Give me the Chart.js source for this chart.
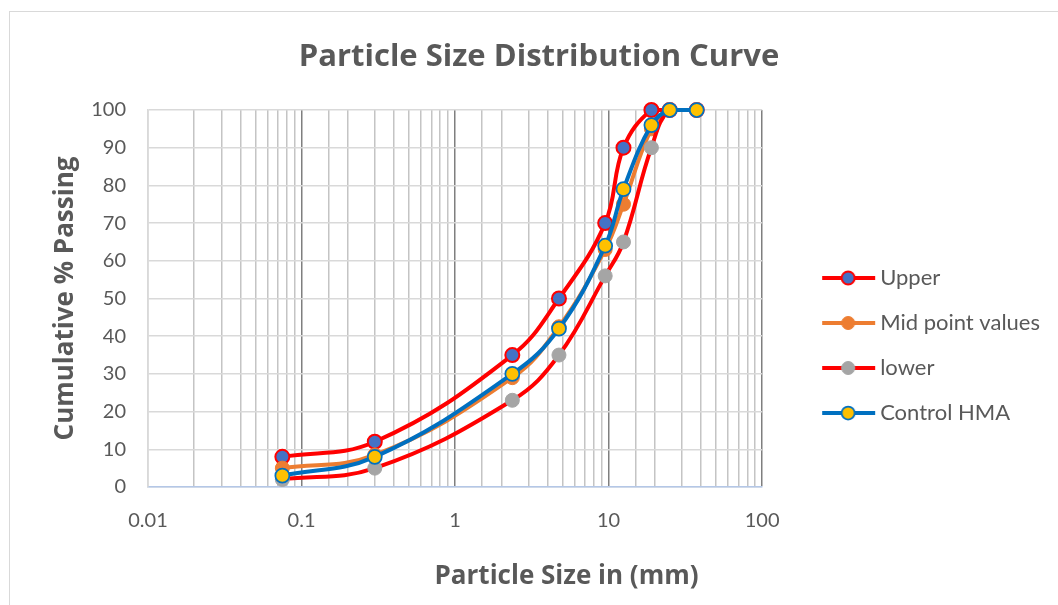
<!DOCTYPE html>
<html><head><meta charset="utf-8">
<script src="https://cdn.jsdelivr.net/npm/chart.js@4.4.1/dist/chart.umd.min.js"></script>
<style>
html,body{margin:0;padding:0;background:#fff;}
#wrap{position:relative;width:1058px;height:605px;overflow:hidden;}
#frame{position:absolute;left:9px;top:11px;width:1100px;height:700px;border:1px solid #d9d9d9;box-sizing:border-box;}
canvas{position:absolute;left:0;top:0;}
</style></head><body>
<div id="wrap"><div id="frame"></div><canvas id="c" width="1058" height="605"></canvas></div>
<script>
// ---- data ----
const sieveSizes = [0.075, 0.3, 2.36, 4.75, 9.5, 12.5, 19, 25, 37.5];
const upperLimit = [8, 12, 35, 50, 70, 90, 100, 100, 100];
const midPoint   = [5, 8.5, 29, 42.5, 63, 75, 95, 100, 100];
const lowerLimit = [2, 5, 23, 35, 56, 65, 90, 100, 100];
const controlHMA = [3, 8, 30, 42, 64, 79, 96, 100, 100];
const seriesNames = ['Upper', 'Mid point values', 'lower', 'Control HMA'];
const xTickLabels = ['0.01', '0.1', '1', '10', '100'];
const chartTitle = 'Particle Size Distribution Curve';
const xTitle = 'Particle Size in (mm)';
const yTitle = 'Cumulative % Passing';

// ---- styles ----
const styles = [
  {line:'#FF0000', fill:'#4472C4', border:'#FF0000', bw:2},
  {line:'#ED7D31', fill:'#ED7D31', border:'#ED7D31', bw:1},
  {line:'#FF0000', fill:'#A5A5A5', border:'#A5A5A5', bw:1},
  {line:'#0070C0', fill:'#FFC000', border:'#0070C0', bw:1.75}
];
const seriesValues = [upperLimit, midPoint, lowerLimit, controlHMA];

Chart.defaults.font.family = 'Lato';
Chart.defaults.color = '#595959';

function makeIcon(s){
  const c = document.createElement('canvas');
  c.width = 100; c.height = 20;
  const g = c.getContext('2d');
  g.strokeStyle = s.line; g.lineWidth = 4;
  g.beginPath(); g.moveTo(45,10); g.lineTo(98,10); g.stroke();
  g.beginPath(); g.arc(71,10,6.5,0,Math.PI*2);
  g.fillStyle = s.fill; g.fill();
  g.lineWidth = s.bw; g.strokeStyle = s.border; g.stroke();
  return c;
}
const icons = styles.map(makeIcon);

// x-axis title is offset to the right of the plot centre in the original
const xTitleFont = 'bold 26px "Open Sans"';
const mctx = document.createElement('canvas').getContext('2d');
mctx.font = xTitleFont;
const spaceW = mctx.measureText(' ').width || 7;
const xTitleShift = 224;
const xTitleText = ' '.repeat(Math.round(xTitleShift / spaceW)) + xTitle;

const datasets = seriesNames.map((name,i)=>({
  label: name,
  data: sieveSizes.map((x,k)=>({x:x, y:seriesValues[i][k]})),
  borderColor: styles[i].line,
  backgroundColor: styles[i].fill,
  borderWidth: 4,
  pointRadius: 7,
  pointHoverRadius: 7,
  pointBackgroundColor: styles[i].fill,
  pointBorderColor: styles[i].border,
  pointBorderWidth: styles[i].bw,
  tension: 0.4,
  clip: false,
  order: 4 - i
}));

function isDecade(v){ const l = Math.log10(v); return Math.abs(l - Math.round(l)) < 1e-6; }

const chart = new Chart(document.getElementById('c'), {
  type: 'line',
  data: { datasets },
  options: {
    responsive: false,
    animation: false,
    events: [],
    layout: { padding: { left: 28, right: 8, top: 0, bottom: 0 } },
    scales: {
      x: {
        type: 'logarithmic',
        min: 0.01, max: 100,
        border: { display: true, color: '#b4c7e7', width: 1.5 },
        grid: {
          drawTicks: false,
          color: ctx => (ctx.tick && isDecade(ctx.tick.value) && ctx.tick.value > 0.011) ? '#7f7f7f' : '#c4c4c4',
          lineWidth: 1.5
        },
        ticks: {
          autoSkip: false, maxRotation: 0, padding: 22,
          font: { size: 20 }, color: '#595959',
          callback: (v) => isDecade(v) ? xTickLabels[Math.round(Math.log10(v)) + 2] : ''
        },
        title: { display: true, text: xTitleText, font: { family: 'Open Sans', size: 26, weight: 'bold' }, color: '#595959', padding: { top: 0, bottom: 13 } },
        afterFit: s => { s.height = 118; }
      },
      y: {
        min: 0, max: 100,
        border: { display: true, color: '#d9d9d9', width: 1.5 },
        grid: { drawTicks: false, color: '#d9d9d9', lineWidth: 1.5 },
        ticks: { stepSize: 10, padding: 22, font: { size: 20 }, color: '#595959' },
        title: { display: true, text: yTitle, font: { family: 'Open Sans', size: 26, weight: 'bold' }, color: '#595959', padding: { top: 22, bottom: 0 } },
        afterFit: s => { s.width = 120; }
      }
    },
    plugins: {
      title: { display: true, text: chartTitle, font: { family: 'Open Sans', size: 31, weight: 'bold' }, color: '#595959', padding: { top: 38.5, bottom: 34.3 } },
      tooltip: { enabled: false },
      legend: {
        position: 'right',
        maxWidth: 400,
        title: { display: true, text: ' ', padding: 31, font: { size: 20 } },
        labels: {
          usePointStyle: true,
          pointStyleWidth: 84,
          padding: 23,
          font: { size: 22 },
          color: '#595959',
          sort: (a,b) => a.datasetIndex - b.datasetIndex,
          generateLabels: (ch) => Chart.defaults.plugins.legend.labels.generateLabels(ch).map(it => Object.assign(it, { pointStyle: icons[it.datasetIndex], fontColor: '#595959' }))
        }
      }
    }
  }
});
for (let k = 0; k < 3; k++) {
  const dx = 762 - chart.chartArea.right;
  if (Math.abs(dx) < 0.5) break;
  chart.config.options.layout.padding.right = chart.config.options.layout.padding.right - dx;
  chart.update('none');
}
</script>
</body></html>
